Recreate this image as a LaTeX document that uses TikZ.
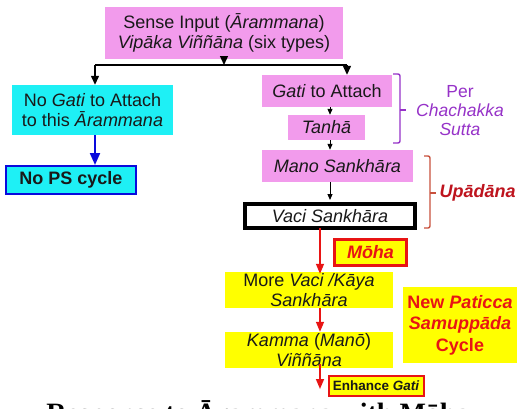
\documentclass[tikz,border=0pt]{standalone}
\usepackage{fontspec}
\setmainfont{Liberation Sans}
\newfontfamily\capfont{Liberation Serif}
\usetikzlibrary{arrows.meta}
\definecolor{pinkb}{RGB}{242,155,236}
\definecolor{cyanb}{RGB}{30,240,245}
\definecolor{yellowb}{RGB}{255,255,0}
\definecolor{redb}{RGB}{232,20,20}
\definecolor{blueb}{RGB}{10,10,220}
\definecolor{purpleb}{RGB}{150,50,200}
\definecolor{darkredb}{RGB}{190,20,30}
\definecolor{brownb}{RGB}{200,80,60}
\definecolor{textb}{RGB}{25,25,25}
\tikzset{
  box/.style={inner sep=0pt, align=center, text=textb, font=\fontsize{18}{20}\selectfont},
  pinkbox/.style={box, fill=pinkb},
  cyanbox/.style={box, fill=cyanb},
  yellowbox/.style={box, fill=yellowb},
  blackarr/.style={line width=1.3pt, -{Triangle[width=8pt,length=9pt]}},
  smallarr/.style={line width=1pt, -{Triangle[width=5pt,length=6pt]}},
  redarr/.style={draw=redb, line width=1.5pt, -{Triangle[width=8pt,length=10pt]}, redb},
  bluearr/.style={draw=blueb, line width=2pt, -{Triangle[width=10pt,length=12pt]}, blueb},
  bracketline/.style={line width=1.4pt, rounded corners=2pt}
}
\begin{document}
\begin{tikzpicture}[x=1pt,y=-1pt]
\useasboundingbox (0,0) rectangle (517,408);
\clip (0,0) rectangle (517,408);
\fill[white] (0,0) rectangle (517,408);

% nodes
\node[pinkbox, minimum width=238pt, minimum height=52pt] (top) at (224,33)
  {Sense Input (\textit{Ārammana})\\ \textit{Vipāka Viññāna} (six types)};
\node[cyanbox, minimum width=161pt, minimum height=50pt] (nogati) at (92.5,110)
  {No \textit{Gati} to Attach\\ to this \textit{Ārammana}};
\node[cyanbox, draw=blueb, line width=2pt, minimum width=130pt, minimum height=28pt, font=\bfseries\fontsize{18}{20}\selectfont] (nops) at (71,180)
  {No PS cycle};
\node[pinkbox, minimum width=130pt, minimum height=32pt] (gati) at (327,91)
  {\textit{Gati} to Attach};
\node[pinkbox, minimum width=77pt, minimum height=25pt] (tanha) at (326.5,127.5)
  {\textit{Tanhā}};
\node[pinkbox, minimum width=151pt, minimum height=32pt] (mano) at (337.5,166)
  {\textit{Mano Sankhāra}};
\node[box, fill=white, draw=black, line width=4pt, minimum width=170pt, minimum height=24pt] (vaci) at (330,216)
  {\textit{Vaci Sankhāra}};
\node[yellowbox, draw=redb, line width=3pt, minimum width=72pt, minimum height=26pt, text=redb, font=\bfseries\itshape\fontsize{18}{20}\selectfont] (moha) at (370.5,252.5)
  {Mōha};
\node[yellowbox, minimum width=168pt, minimum height=36pt] (more) at (309,290)
  {More \textit{Vaci /Kāya}\\ \textit{Sankhāra}};
\node[yellowbox, minimum width=168pt, minimum height=36pt] (kamma) at (309,350)
  {\textit{Kamma} (\textit{Manō})\\ \textit{Viññāna}};
\node[yellowbox, draw=redb, line width=2pt, minimum width=95pt, minimum height=20pt, font=\bfseries\fontsize{13.5}{15}\selectfont] (enh) at (376,386)
  {Enhance \textit{Gati}};
\node[yellowbox, minimum width=114pt, minimum height=76pt, text=redb, font=\bfseries\fontsize{18}{21.5}\selectfont] (newps) at (460,325)
  {New \textit{Paticca}\\ \textit{Samuppāda}\\ Cycle};

% labels
\node[align=center, text=purpleb, font=\fontsize{17.5}{19}\selectfont] (per) at (460,111)
  {Per\\ \textit{Chachakka}\\ \textit{Sutta}};
\node[anchor=west, text=darkredb, font=\bfseries\itshape\fontsize{18}{20}\selectfont] (upa) at (436,193)
  {Upādāna};

% connectors
\coordinate (jc) at (224,65);
\coordinate (jl) at (95,65);
\coordinate (jr) at (347,65);
\draw[blackarr] (top.south) -- (jc);
\draw[line width=1.3pt] (jl) -- (jr);
\draw[blackarr] (jl) -- (jl |- nogati.north);
\draw[blackarr] (jr) -- (jr |- gati.north);
\draw[bluearr] (nogati.south -| 95,0) -- (nops.north -| 95,0);
\draw[smallarr] (gati.south -| 330,0) -- (tanha.north -| 330,0);
\draw[smallarr] (tanha.south -| 330,0) -- (mano.north -| 330,0);
\draw[smallarr] (mano.south -| 330,0) -- ([yshift=2pt]vaci.north -| 330,0);
\draw[redarr] ([yshift=2pt]vaci.south -| 320,0) -- ([yshift=-2pt]more.north -| 320,0);
\draw[redarr] (more.south -| 320,0) -- (kamma.north -| 320,0);
\coordinate (enhin) at (320,389);
\draw[redarr] ([yshift=4pt]kamma.south -| 320,0) -- (enhin);

% brackets
\draw[bracketline, purpleb] (393,74) -- (400,74) -- (400,143) -- (393,143);
\draw[line width=1.4pt, purpleb] (400,110) -- (406,110);
\draw[bracketline, brownb] (424,156) -- (430,156) -- (430,228) -- (424,228);
\draw[line width=1.4pt, brownb] (430,193) -- (436,193);

% cut-off caption (only the tops of its letters show in the reference)
\node[anchor=base, font=\capfont\bfseries\fontsize{28}{30}\selectfont] (cap) at (258,422)
  {Response to Ārammana with Mōha};
\end{tikzpicture}
\end{document}
